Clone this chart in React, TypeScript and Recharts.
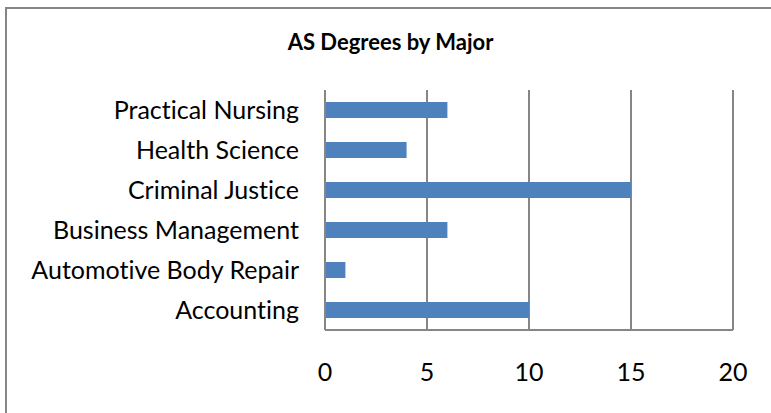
import React from 'react';
import { BarChart, Bar, XAxis, YAxis, CartesianGrid } from 'recharts';

// categories top to bottom, as they appear in the chart
const majors = [
  'Practical Nursing',
  'Health Science',
  'Criminal Justice',
  'Business Management',
  'Automotive Body Repair',
  'Accounting',
];
const degrees = [6, 4, 15, 6, 1, 10];
const xTicks = [0, 5, 10, 15, 20];

const data = majors.map((name, i) => ({ name, degrees: degrees[i] }));

const FONT = 'Lato, "Noto Sans", sans-serif';
const GRAY = '#868686';

export default function App() {
  return (
    <div style={{ position: 'absolute', left: 0, top: 0, width: 771, height: 413, overflow: 'hidden', background: '#fff', fontFamily: FONT, fontVariantLigatures: 'none' }}>
      {/* outer frame: only top and left edges show in the picture */}
      <div style={{ position: 'absolute', left: 5, top: 7, width: 766, height: 406, borderTop: `2px solid ${GRAY}`, borderLeft: `2px solid ${GRAY}`, boxSizing: 'border-box', pointerEvents: 'none' }} />
      <div style={{ position: 'absolute', left: 0, width: 781, top: 28, textAlign: 'center', fontWeight: 'bold', fontSize: 22, color: '#000' }}>
        AS Degrees by Major
      </div>
      <BarChart
        width={771}
        height={413}
        data={data}
        layout="vertical"
        margin={{ top: 90, right: 38, bottom: 0, left: 0 }}
      >
        <CartesianGrid horizontal={false} stroke={GRAY} strokeWidth={2} />
        <XAxis
          type="number"
          domain={[0, 20]}
          ticks={xTicks}
          height={83}
          tickSize={0}
          tickMargin={33}
          axisLine={{ stroke: GRAY, strokeWidth: 2 }}
          tick={{ fill: '#000', fontSize: 25, fontFamily: FONT }}
        />
        <YAxis
          type="category"
          dataKey="name"
          width={325}
          tickSize={0}
          tickMargin={26}
          axisLine={{ stroke: GRAY, strokeWidth: 2 }}
          tick={{ fill: '#000', fontSize: 25, fontFamily: FONT }}
          interval={0}
        />
        <Bar dataKey="degrees" fill="#4F81BD" barSize={16} isAnimationActive={false} />
      </BarChart>
    </div>
  );
}
